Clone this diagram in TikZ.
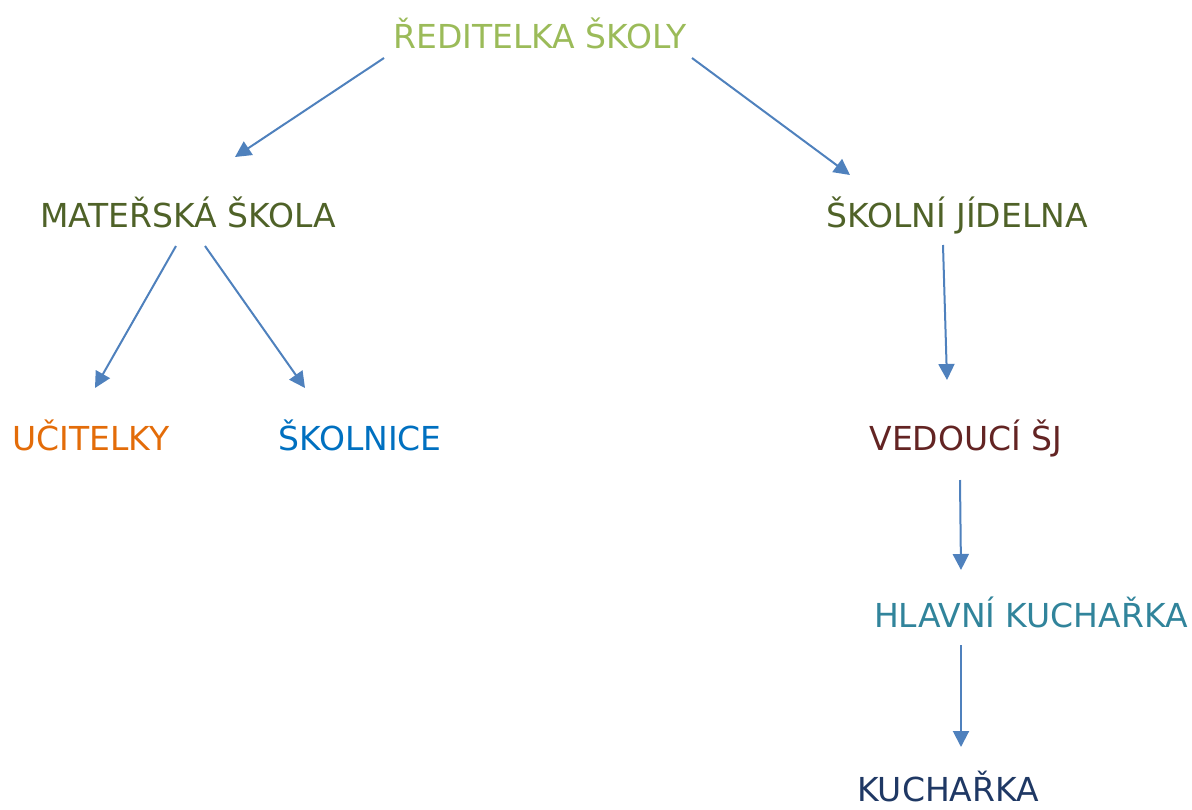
\documentclass[tikz,border=0pt]{standalone}
\usepackage{fontspec}
\setmainfont{DejaVu Sans}
\usetikzlibrary{arrows.meta}
\definecolor{zelena}{HTML}{9BBB59}
\definecolor{olivova}{HTML}{4F6228}
\definecolor{oranzova}{HTML}{E36C09}
\definecolor{modra}{HTML}{0070C0}
\definecolor{hneda}{HTML}{632423}
\definecolor{tyrkys}{HTML}{31849B}
\definecolor{namodni}{HTML}{1F3864}
\definecolor{sipka}{HTML}{4F81BD}

\begin{document}
\begin{tikzpicture}[x=1pt,y=-1pt,
        uzel/.style={anchor=base,inner sep=0pt,font=\fontsize{33}{40}\selectfont},
        vazba/.style={sipka,line width=2pt,-{Triangle[width=16pt,length=16pt]}}]
        \useasboundingbox (0,0) rectangle (1192,809);
        \node[uzel,text=zelena] (red) at (540,48) {ŘEDITELKA ŠKOLY};
        \node[uzel,text=olivova] (ms) at (188,227) {MATEŘSKÁ ŠKOLA};
        \node[uzel,text=olivova] (sj) at (957,227) {ŠKOLNÍ JÍDELNA};
        \node[uzel,text=oranzova] (uc) at (91,450) {UČITELKY};
        \node[uzel,text=modra] (sk) at (360,450) {ŠKOLNICE};
        \node[uzel,text=hneda] (ved) at (966,450) {VEDOUCÍ ŠJ};
        \node[uzel,text=tyrkys] (hk) at (1031,627) {HLAVNÍ KUCHAŘKA};
        \node[uzel,text=namodni] (ku) at (948,801) {KUCHAŘKA};
        \draw[vazba] ([shift={(-156,10)}]red.base) -- ([shift={(47,-70)}]ms.base);
        \draw[vazba] ([shift={(152,10)}]red.base) -- ([shift={(-107,-52)}]sj.base);
        \draw[vazba] ([shift={(-12,19)}]ms.base) -- ([shift={(4,-62)}]uc.base);
        \draw[vazba] ([shift={(17,19)}]ms.base) -- ([shift={(-55,-62)}]sk.base);
        \draw[vazba] ([shift={(-14,18)}]sj.base) -- ([shift={(-19,-70)}]ved.base);
        \draw[vazba] ([shift={(-6,30)}]ved.base) -- ([shift={(-70,-57)}]hk.base);
        \draw[vazba] ([shift={(-70,18)}]hk.base) -- ([shift={(13,-54)}]ku.base);
\end{tikzpicture}
\end{document}
